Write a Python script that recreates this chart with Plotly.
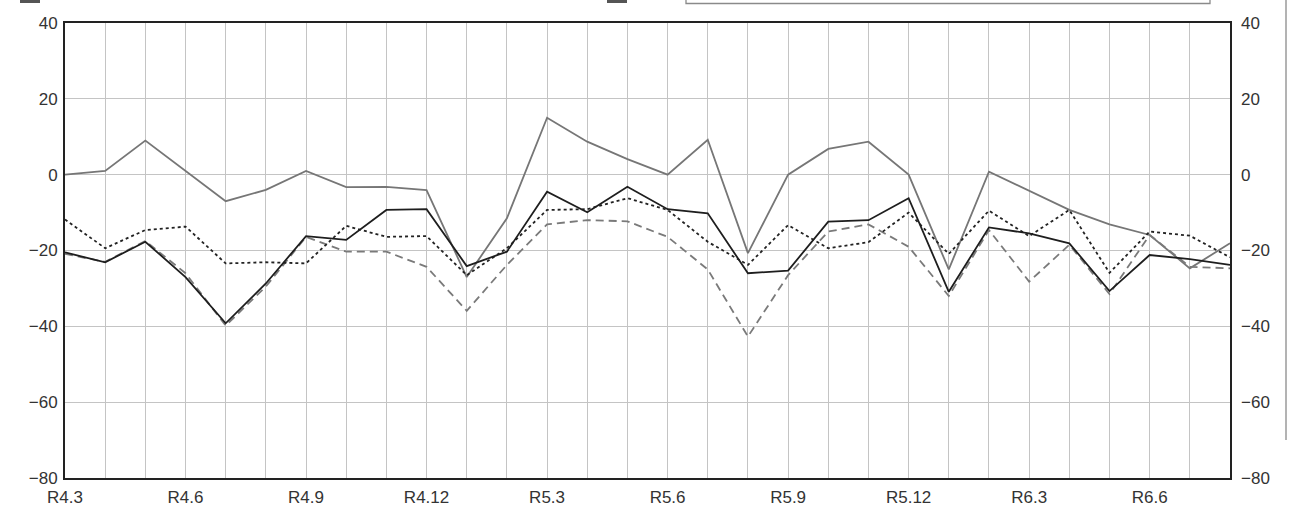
import plotly.graph_objects as go

months = ["R4.3", "R4.4", "R4.5", "R4.6", "R4.7", "R4.8", "R4.9", "R4.10", "R4.11", "R4.12",
          "R5.1", "R5.2", "R5.3", "R5.4", "R5.5", "R5.6", "R5.7", "R5.8", "R5.9", "R5.10",
          "R5.11", "R5.12", "R6.1", "R6.2", "R6.3", "R6.4", "R6.5", "R6.6", "R6.7", "R6.8"]
tick_labels = ["R4.3", "", "", "R4.6", "", "", "R4.9", "", "", "R4.12",
               "", "", "R5.3", "", "", "R5.6", "", "", "R5.9", "",
               "", "R5.12", "", "", "R6.3", "", "", "R6.6", "", ""]

gray_solid = [0, 1, 9, 1, -7, -4, 1, -3.3, -3.2, -4.1,
              -27, -11.5, 15, 8.7, 4.1, 0, 9.2, -20.7, 0, 6.8,
              8.7, 0, -25, 0.8, -4.3, -9.3, -13.1, -15.9, -24.7, -18.1]
black_solid = [-20.5, -23.1, -17.7, -27, -39.2, -28.7, -16.2, -17.2, -9.3, -9.1,
               -24.1, -20.3, -4.5, -9.9, -3.2, -9.1, -10.2, -26, -25.3, -12.4,
               -12, -6.2, -30.9, -13.9, -15.5, -18.1, -30.7, -21.2, -22.3, -23.8]
black_dotted = [-11.8, -19.4, -14.6, -13.7, -23.4, -23.1, -23.4, -13.5, -16.4, -16.2,
                -26.5, -19.4, -9.3, -9.1, -6.2, -9.3, -17.7, -23.8, -13.3, -19.4,
                -17.8, -10, -20.9, -9.5, -16.2, -9.3, -25.9, -15, -16.1, -21.8]
gray_dashed = [-20.9, -23, -17.5, -26, -39.8, -29.5, -16.4, -20.3, -20.3, -24.3,
               -35.9, -23.8, -13.1, -12, -12.3, -16.4, -25, -42.7, -26.5, -15,
               -13.1, -19, -32, -14.6, -28.2, -18.5, -31.5, -15.9, -24.3, -24.7]

y_ticks = [40, 20, 0, -20, -40, -60, -80]

FONT = "Liberation Sans Narrow, Arial Narrow, Liberation Sans, Arial, sans-serif"

fig = go.Figure()
fig.add_trace(go.Scatter(x=months, y=gray_solid, mode="lines",
                         line=dict(color="#767676", width=1.8), hoverinfo="skip"))
fig.add_trace(go.Scatter(x=months, y=gray_dashed, mode="lines",
                         line=dict(color="#7a7a7a", width=1.8, dash="8px,5px"), hoverinfo="skip"))
fig.add_trace(go.Scatter(x=months, y=black_dotted, mode="lines",
                         line=dict(color="#222222", width=1.8, dash="dot"), hoverinfo="skip"))
fig.add_trace(go.Scatter(x=months, y=black_solid, mode="lines",
                         line=dict(color="#1e1e1e", width=1.8), hoverinfo="skip"))
# invisible trace to activate the mirrored right axis
fig.add_trace(go.Scatter(x=months, y=black_solid, mode="lines", yaxis="y2",
                         line=dict(color="rgba(0,0,0,0)", width=0), hoverinfo="skip"))

W, H = 1306, 522
L, R, T, B = 65, 1230, 23, 478


def px(x):
    return (x - L) / (R - L)


def py(y):
    return (B - y) / (B - T)


shapes = [
    # cropped legend symbols and frame fragments at the top edge
    dict(type="rect", xref="paper", yref="paper", x0=px(20), x1=px(40), y0=py(3), y1=py(-5),
         fillcolor="#555555", line=dict(width=0)),
    dict(type="rect", xref="paper", yref="paper", x0=px(607), x1=px(627), y0=py(3), y1=py(-5),
         fillcolor="#555555", line=dict(width=0)),
    dict(type="rect", xref="paper", yref="paper", x0=px(686), x1=px(1210), y0=py(3.5), y1=py(-5),
         fillcolor="rgba(0,0,0,0)", line=dict(color="#8a8a8a", width=1.3)),
    dict(type="line", xref="paper", yref="paper", x0=px(1286), x1=px(1286), y0=py(440), y1=py(-2),
         line=dict(color="#8a8a8a", width=1.3)),
]

fig.update_layout(
    width=W, height=H,
    margin=dict(l=L, r=W - R, t=T, b=H - B, pad=0),
    paper_bgcolor="white", plot_bgcolor="white",
    showlegend=False,
    font=dict(family=FONT, size=17, color="#333333"),
    shapes=shapes,
    xaxis=dict(
        type="category", categoryorder="array", categoryarray=months,
        range=[0, len(months) - 1],
        tickmode="array", tickvals=months, ticktext=tick_labels,
        showgrid=True, gridcolor="#c4c4c4", gridwidth=1.2,
        showline=True, linecolor="#222222", linewidth=2, mirror=True,
        ticks="", zeroline=False, ticklabelstandoff=3,
        tickfont=dict(family=FONT, size=17, color="#333333"),
    ),
    yaxis=dict(
        range=[-80, 40], tickvals=y_ticks,
        showgrid=True, gridcolor="#c4c4c4", gridwidth=1.2,
        showline=True, linecolor="#222222", linewidth=2, mirror=True,
        zeroline=False, ticks="", ticklabelstandoff=2,
        tickfont=dict(family=FONT, size=17, color="#333333"),
    ),
    yaxis2=dict(
        range=[-80, 40], tickvals=y_ticks, overlaying="y", side="right",
        showgrid=False, zeroline=False, showline=False, ticks="",
        ticklabelstandoff=10,
        tickfont=dict(family=FONT, size=17, color="#333333"),
    ),
)

fig.write_html("out.html", config={"displayModeBar": False},
               post_script="document.body.style.margin='0';document.body.style.padding='0';")
